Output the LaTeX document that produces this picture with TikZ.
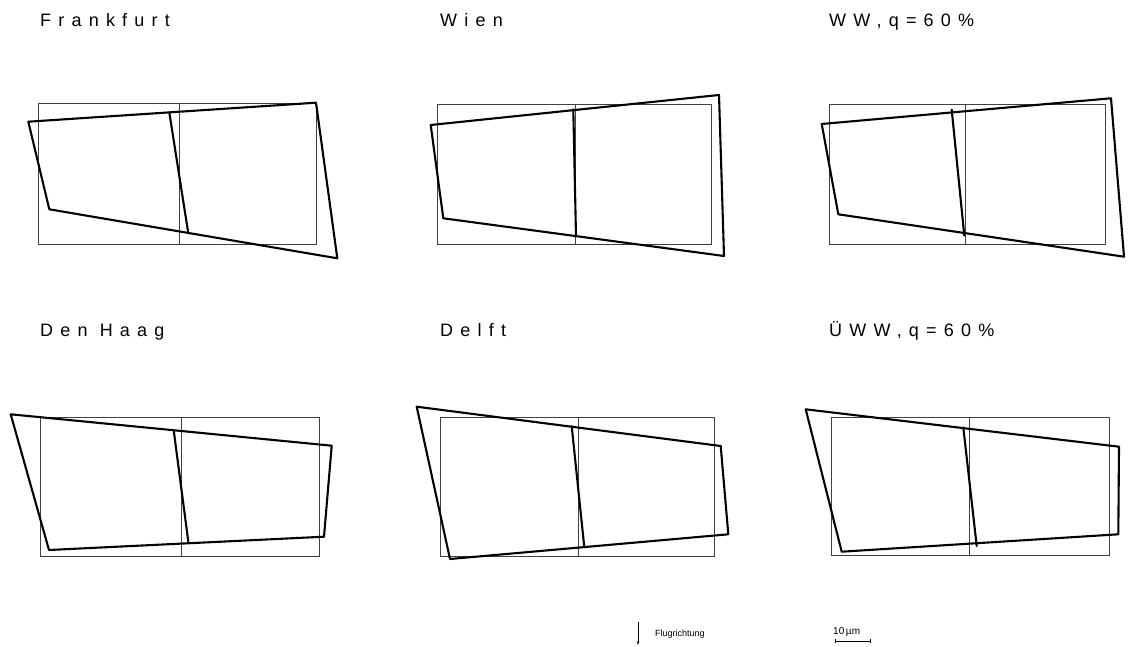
\documentclass[tikz,border=0pt]{standalone}
\usepackage{fontspec}
\setmainfont{Liberation Sans}
\newfontfamily\spacedfont[LetterSpace=40]{Liberation Sans}
\usetikzlibrary{arrows.meta}
\begin{document}
\begin{tikzpicture}[x=1pt,y=-1pt,
  refbox/.style={draw=black!75,line width=0.9pt},
  deform/.style={draw=black,line width=2.1pt,line join=round,line cap=round},
  paneltitle/.style={anchor=base west,inner sep=0pt,font=\spacedfont\fontsize{18}{21}\selectfont},
  smalltext/.style={anchor=west,inner sep=0pt,font=\fontsize{9}{11}\selectfont}]
\useasboundingbox (0,0) rectangle (1129,647);
\fill[white] (0,0) rectangle (1129,647);

% ---- titles
\node[paneltitle] (t1) at (40,26.5) {Frankfurt};
\node[paneltitle] (t2) at (440,26.5) {Wien};
\node[paneltitle] (t3) at (829,26.5) {WW,q=60\%};
\node[paneltitle] (t4) at (40,336.5) {Den Haag};
\node[paneltitle] (t5) at (440,336.5) {Delft};
\node[paneltitle] (t6) at (829,336.5) {ÜWW,q=60\%};

% ---- Frankfurt
\draw[refbox] (38.3,103.3) rectangle (316,244);
\draw[refbox] (179,103.3) -- (179,244);
\draw[deform] (28.3,121.7) -- (316,102.7) -- (337.3,258.3) -- (49.3,209.3) -- cycle;
\draw[deform] (169.3,112.4) -- (188.3,233.3);

% ---- Wien
\draw[refbox] (437.3,104.3) rectangle (711.7,244);
\draw[refbox] (575,104.3) -- (575,244);
\draw[deform] (430.7,125) -- (719,95) -- (724,256) -- (443.3,218.3) -- cycle;
\draw[deform] (573.3,109.4) -- (576,236.4);

% ---- WW, q=60%
\draw[refbox] (829,104.7) rectangle (1105,244.3);
\draw[refbox] (965.7,104.7) -- (965.7,244.3);
\draw[deform] (821.7,124) -- (1111,98.3) -- (1124,256.7) -- (838.3,214.3) -- cycle;
\draw[deform] (951.7,109.7) -- (964.3,235.6);

% ---- Den Haag
\draw[refbox] (40.3,417.3) rectangle (319,556.7);
\draw[refbox] (181,417.3) -- (181,556.7);
\draw[deform] (10.7,414.3) -- (331.7,445.7) -- (324,536.7) -- (49,550) -- cycle;
\draw[deform] (173.7,430.3) -- (188.3,541.7);

% ---- Delft
\draw[refbox] (440.3,417.7) rectangle (714.3,556);
\draw[refbox] (578.3,417.7) -- (578.3,556);
\draw[deform] (416.7,406.7) -- (720.7,446) -- (728.3,534.3) -- (450,559) -- cycle;
\draw[deform] (571.7,426.2) -- (584.3,547.3);

% ---- UeWW, q=60%
\draw[refbox] (831.7,417.7) rectangle (1109.3,555.7);
\draw[refbox] (969,417.7) -- (969,555.7);
\draw[deform] (805.7,409.3) -- (1119,446.7) -- (1118.3,534.3) -- (841.7,551.7) -- cycle;
\draw[deform] (963.3,427.5) -- (976.7,546);

% ---- legend: flight direction
\coordinate (fa) at (638,622);
\coordinate (fb) at (638,645);
\draw[line width=0.8pt,-{Stealth[length=4pt,width=2.5pt]}] (fa) -- (fb);
\node[smalltext] (flug) at (655,634) {Flugrichtung};

% ---- legend: scale bar
\node[smalltext,font=\fontsize{10}{12}\selectfont] (scale) at (833,632) {10\,µm};
\coordinate (sa) at (835,641);
\coordinate (sb) at (870,641);
\draw[line width=0.8pt] (sa) -- (sb);
\draw[line width=0.8pt] ([yshift=-2pt]sa) -- ([yshift=2pt]sa);
\draw[line width=0.8pt] ([yshift=-2pt]sb) -- ([yshift=2pt]sb);
\end{tikzpicture}
\end{document}
